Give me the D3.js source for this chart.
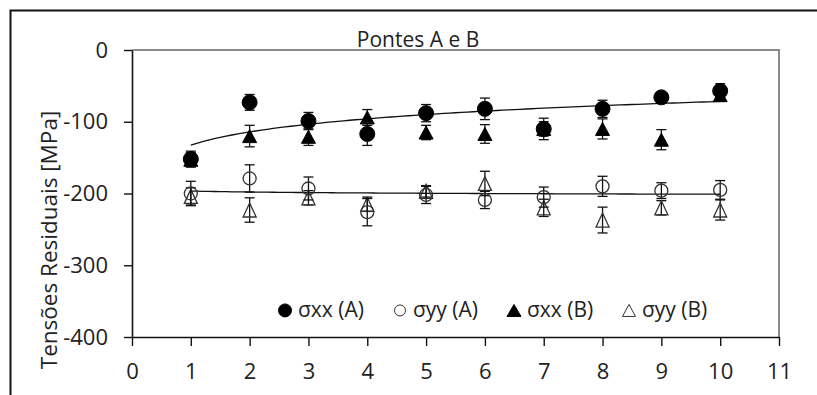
<!DOCTYPE html>
<html>
<head>
<meta charset="utf-8">
<script src="https://cdn.jsdelivr.net/npm/d3@7/dist/d3.min.js"></script>
<style>
  body { margin: 0; background: #fff; }
  text { font-family: "Open Sans", sans-serif; fill: #222; }
</style>
</head>
<body>
<svg id="chart"></svg>
<script>
// ---- data ----
const positions = [1, 2, 3, 4, 5, 6, 7, 8, 9, 10];
const xTicks = [0, 1, 2, 3, 4, 5, 6, 7, 8, 9, 10, 11];
const yTicks = [0, -100, -200, -300, -400];

const sxxA = [-152, -73, -99, -117, -88, -82, -110, -82, -66, -57];
const sxxAErr = [11, 11, 12, 16, 12, 15, 15, 12, 6, 10];
const syyA = [-200, -179, -193, -226, -202, -209, -205, -190, -196, -195];
const syyAErr = [17, 19, 16, 19, 12, 12, 14, 14, 11, 13];
const sxxB = [-153, -120, -121, -94, -115, -117, -110, -110, -125, -63];
const sxxBErr = [10, 15, 12, 11, 10, 13, 10, 14, 14, 8];
const syyB = [-204, -223, -206, -215, -197, -186, -220, -237, -220, -223];
const syyBErr = [12, 17, 10, 10, 8, 17, 12, 18, 10, 14];

const seriesLabels = ['σxx (A)', 'σyy (A)', 'σxx (B)', 'σyy (B)'];

const width = 817, height = 395;
const margin = {top: 50, right: 38, bottom: 58, left: 132};

const svg = d3.select('#chart').attr('width', width).attr('height', height);

// outer frame (left + top only visible)
svg.append('path')
  .attr('d', `M10.5,${height} L10.5,10.5 L${width},10.5`)
  .attr('fill', 'none').attr('stroke', '#111').attr('stroke-width', 2);

const x = d3.scaleLinear().domain([0, 11]).range([margin.left, width - margin.right]);
const y = d3.scaleLinear().domain([-400, 0]).range([height - margin.bottom, margin.top]);

// plot box top/right
svg.append('path')
  .attr('d', `M${x(0)},${y(0)} L${x(11)},${y(0)} L${x(11)},${y(-400)}`)
  .attr('fill', 'none').attr('stroke', '#666').attr('stroke-width', 1.5);

// axes (plain hyphen for negatives, like the original)
const xAxis = svg.append('g')
  .attr('transform', `translate(0,${y(-400)})`)
  .call(d3.axisBottom(x).tickValues(xTicks).tickFormat(d => String(d))
    .tickSize(9).tickPadding(17).tickSizeOuter(0));
const yAxis = svg.append('g')
  .attr('transform', `translate(${x(0)},0)`)
  .call(d3.axisLeft(y).tickValues(yTicks).tickFormat(d => String(d))
    .tickSize(8).tickPadding(16).tickSizeOuter(0));

[xAxis, yAxis].forEach(g => {
  g.select('.domain').attr('stroke', '#111').attr('stroke-width', 1.6);
  g.selectAll('.tick line').attr('stroke', '#111').attr('stroke-width', 1.4);
  g.selectAll('.tick text').attr('font-size', 22).attr('font-family', '"Open Sans", sans-serif').attr('fill', '#222');
});

// title + y label
svg.append('text')
  .attr('x', 418).attr('y', 47)
  .attr('text-anchor', 'middle').attr('font-size', 21)
  .text('Pontes A e B');

svg.append('text')
  .attr('transform', `translate(57,240) rotate(-90)`)
  .attr('text-anchor', 'middle').attr('font-size', 22.5)
  .text('Tensões Residuais [MPa]');

// log trendline computed from a series (least squares on ln x)
function logFit(xs, ys) {
  const lx = xs.map(Math.log);
  const mx = d3.mean(lx), my = d3.mean(ys);
  const a = d3.sum(lx, (v, i) => (v - mx) * (ys[i] - my)) / d3.sum(lx, v => (v - mx) ** 2);
  const b = my - a * mx;
  return t => a * Math.log(t) + b;
}

const line = d3.line().x(d => x(d[0])).y(d => y(d[1]));
[sxxA, syyA].forEach(vals => {
  const f = logFit(positions, vals);
  const pts = d3.range(1, 10.01, 0.1).map(t => [t, f(t)]);
  svg.append('path').datum(pts)
    .attr('d', line).attr('fill', 'none')
    .attr('stroke', '#111').attr('stroke-width', 1.3);
});

// marker shapes
const circlePath = r => d3.symbol().type(d3.symbolCircle).size(Math.PI * r * r)();
const triPath = (w, h) => `M0,${-h / 2}L${w / 2},${h / 2}L${-w / 2},${h / 2}Z`;

const series = [
  {vals: syyB, err: syyBErr, d: triPath(13, 14), fill: 'none'},
  {vals: syyA, err: syyAErr, d: circlePath(6.5), fill: 'none'},
  {vals: sxxB, err: sxxBErr, d: triPath(14, 13), fill: '#000'},
  {vals: sxxA, err: sxxAErr, d: circlePath(7.5), fill: '#000'}
];

series.forEach(s => {
  const g = svg.append('g');
  const data = positions.map((p, i) => ({p, v: s.vals[i], e: s.err[i]}));
  const bars = g.selectAll('.err').data(data).join('g').attr('class', 'err')
    .attr('stroke', '#111').attr('stroke-width', 1.3);
  bars.append('line')
    .attr('x1', d => x(d.p)).attr('x2', d => x(d.p))
    .attr('y1', d => y(d.v - d.e)).attr('y2', d => y(d.v + d.e));
  bars.append('line')
    .attr('x1', d => x(d.p) - 5).attr('x2', d => x(d.p) + 5)
    .attr('y1', d => y(d.v + d.e)).attr('y2', d => y(d.v + d.e));
  bars.append('line')
    .attr('x1', d => x(d.p) - 5).attr('x2', d => x(d.p) + 5)
    .attr('y1', d => y(d.v - d.e)).attr('y2', d => y(d.v - d.e));
  g.selectAll('.mk').data(data).join('path').attr('class', 'mk')
    .attr('d', s.d)
    .attr('transform', d => `translate(${x(d.p)},${y(d.v)})`)
    .attr('fill', s.fill)
    .attr('stroke', s.fill === 'none' ? '#333' : '#000')
    .attr('stroke-width', s.fill === 'none' ? 1.3 : 1);
});

// legend
const legendItems = [
  {label: seriesLabels[0], d: circlePath(6.5), fill: '#000', x: 285},
  {label: seriesLabels[1], d: circlePath(5.5), fill: 'none', x: 400},
  {label: seriesLabels[2], d: triPath(14, 12), fill: '#000', x: 514},
  {label: seriesLabels[3], d: triPath(13, 12), fill: 'none', x: 629}
];
const legend = svg.append('g').attr('transform', `translate(0,${y(-363)})`);
legendItems.forEach(it => {
  legend.append('path')
    .attr('d', it.d)
    .attr('transform', `translate(${it.x},0)`)
    .attr('fill', it.fill).attr('stroke', it.fill === 'none' ? '#333' : '#000')
    .attr('stroke-width', 1);
  legend.append('text')
    .attr('x', it.x + 13).attr('y', 7)
    .attr('font-size', 21)
    .text(it.label);
});
</script>
</body>
</html>
